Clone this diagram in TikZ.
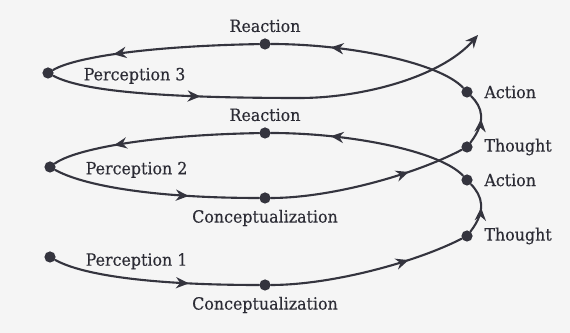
\documentclass[tikz,border=0pt]{standalone}
\usepackage{fontspec}
\setmainfont{DejaVu Serif}[FakeStretch=0.94,FakeBold=0.3]
\usetikzlibrary{arrows.meta,positioning,decorations.markings}
\definecolor{ink}{RGB}{52,52,62}
\definecolor{paper}{RGB}{245,245,245}

\begin{document}
\begin{tikzpicture}[x=0.025cm,y=0.025cm,font=\fontsize{12}{14}\selectfont,line cap=round,
  dot/.style={circle,fill=ink,inner sep=0pt,minimum size=2.8mm},
  lbl/.style={text=ink!85!black,inner sep=1pt},
  flow/.style={draw=ink,line width=1.5pt},
  midtip/.style={postaction={decorate,decoration={markings,
    mark=at position #1 with {\arrow{Stealth[length=3.2mm,width=2.8mm]}}}}},
  midtip/.default=0.66]
\fill[paper] (0,0) rectangle (570,333);
% dots on the spiral
\node[dot] (p1) at (50,76) {};
\node[dot] (c1) at (265,48) {};
\node[dot] (t1) at (467,97) {};
\node[dot] (a1) at (467,153) {};
\node[dot] (r2) at (265,200) {};
\node[dot] (p2) at (50,166) {};
\node[dot] (c2) at (265,135) {};
\node[dot] (t2) at (467,186) {};
\node[dot] (a2) at (467,241) {};
\node[dot] (r3) at (265,289) {};
\node[dot] (p3) at (48,260) {};
\coordinate (bend) at (300,235);
\coordinate (end) at (478,298);
% labels
\node[lbl,right=20pt of p1,yshift=-3pt] (lp1) {Perception 1};
\node[lbl,below=3pt of c1] (lc1) {Conceptualization};
\node[lbl,right=7pt of t1] (lt1) {Thought};
\node[lbl,right=7pt of a1] (la1) {Action};
\node[lbl,above=3pt of r2] (lr2) {Reaction};
\node[lbl,right=20pt of p2,yshift=-2pt] (lp2) {Perception 2};
\node[lbl,below=3pt of c2] (lc2) {Conceptualization};
\node[lbl,right=7pt of t2] (lt2) {Thought};
\node[lbl,right=7pt of a2] (la2) {Action};
\node[lbl,above=3pt of r3] (lr3) {Reaction};
\node[lbl,right=20pt of p3,yshift=-2pt] (lp3) {Perception 3};
% first turn
\draw[flow,midtip] (p1) .. controls (82,58) and (150,48) .. (c1);
\draw[flow,midtip=0.71] (c1) .. controls (330,48) and (414,70) .. (t1);
\draw[flow,midtip=0.5] (t1) .. controls (487,123) and (482,137) .. (a1);
\draw[flow,midtip=0.7] (a1) .. controls (440,182) and (350,200) .. (r2);
\draw[flow,midtip=0.7] (r2) .. controls (150,198) and (75,184) .. (p2);
% second turn
\draw[flow,midtip] (p2) .. controls (82,148) and (150,135) .. (c2);
\draw[flow,midtip=0.71] (c2) .. controls (330,135) and (414,158) .. (t2);
\draw[flow,midtip=0.5] (t2) .. controls (487,212) and (482,226) .. (a2);
\draw[flow,midtip=0.7] (a2) .. controls (440,270) and (350,289) .. (r3);
\draw[flow,midtip=0.7] (r3) .. controls (150,287) and (75,276) .. (p3);
% way out
\draw[flow,midtip=0.6] (p3) .. controls (80,243) and (150,235) .. (bend);
\draw[flow,-{Stealth[length=3.2mm,width=2.8mm]}] (bend) .. controls (360,235) and (440,255) .. (end);
\end{tikzpicture}
\end{document}
